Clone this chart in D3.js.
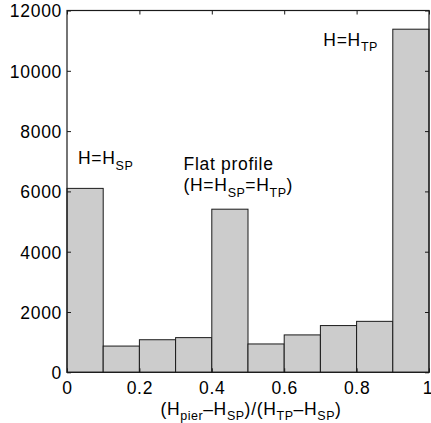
<!DOCTYPE html>
<html><head><meta charset="utf-8">
<script src="https://cdn.jsdelivr.net/npm/d3@7"></script>
<style>
html,body{margin:0;padding:0;background:#fff;}
text{font-family:"Liberation Sans",Arial,Helvetica,sans-serif;fill:#000;}
</style></head>
<body><svg id="c" width="431" height="423"></svg>
<script>
const binStarts = [0,0.1,0.2,0.3,0.4,0.5,0.6,0.7,0.8,0.9];
const binWidth = 0.1;
const counts = [6100,870,1080,1150,5410,940,1240,1550,1690,11380];
const xTicks = [0,0.2,0.4,0.6,0.8,1];
const xTickLabels = ["0","0.2","0.4","0.6","0.8","1"];
const yTicks = [0,2000,4000,6000,8000,10000,12000];

const svg = d3.select("#c");
const L=67, R=429, T=10.5, B=372.3;
const x = d3.scaleLinear().domain([0,1]).range([L,R]);
const y = d3.scaleLinear().domain([0,12000]).range([B,T]);
const fs = 17.5, ls = 0.7, sfs = 12.5, sls = 0.5, sdy = 5.5;

// bars
svg.append("g").selectAll("rect").data(binStarts).join("rect")
  .attr("x",(d)=>x(d)).attr("width",(d)=>x(d+binWidth)-x(d))
  .attr("y",(d,i)=>y(counts[i])).attr("height",(d,i)=>B-y(counts[i]))
  .attr("fill","#cccccc").attr("stroke","#1a1a1a").attr("stroke-width",1);

// box
svg.append("rect").attr("x",L).attr("y",T).attr("width",R-L).attr("height",B-T)
  .attr("fill","none").attr("stroke","#1a1a1a").attr("stroke-width",1.2);

const tl = 4;
const xb = svg.append("g").attr("transform",`translate(0,${B})`)
  .call(d3.axisBottom(x).tickValues(xTicks).tickFormat((d,i)=>xTickLabels[i]).tickSizeInner(-tl).tickSizeOuter(0).tickPadding(9.5));
const xt = svg.append("g").attr("transform",`translate(0,${T})`)
  .call(d3.axisTop(x).tickValues(xTicks).tickFormat("").tickSizeInner(-tl).tickSizeOuter(0));
const yl = svg.append("g").attr("transform",`translate(${L},0)`)
  .call(d3.axisLeft(y).tickValues(yTicks).tickFormat(d3.format("d")).tickSizeInner(-tl).tickSizeOuter(0).tickPadding(5));
const yr = svg.append("g").attr("transform",`translate(${R},0)`)
  .call(d3.axisRight(y).tickValues(yTicks).tickFormat("").tickSizeInner(-tl).tickSizeOuter(0));
[xb,xt,yl,yr].forEach(g=>{
  g.select(".domain").remove();
  g.selectAll("line").attr("stroke","#1a1a1a");
  g.selectAll("text").attr("font-size",fs).attr("letter-spacing",ls)
    .attr("font-family","Liberation Sans, Arial, sans-serif").attr("fill","#000");
});
xb.selectAll("text").attr("dy","0.71em");
xb.selectAll(".tick").filter((d)=>d===1).select("text").attr("dx",-1.5);
yl.selectAll("text").attr("dy","0.36em");

function rich(parent, xPos, yPos, parts, anchor){
  const t = parent.append("text").attr("x",xPos).attr("y",yPos).attr("font-size",fs)
    .attr("letter-spacing",ls).attr("text-anchor",anchor||"start");
  let shift = 0;
  parts.forEach(p=>{
    const ts = t.append("tspan").text(p.t);
    const target = p.sub ? sdy : 0;
    if(target!==shift){ ts.attr("dy",target-shift); shift=target; }
    ts.attr("font-size", p.sub ? sfs : fs).attr("letter-spacing", p.sub ? sls : ls);
  });
  return t;
}
rich(svg, 251, 414.5, [{t:"(H"},{t:"pier",sub:1},{t:"\u2013H"},{t:"SP",sub:1},{t:")/(H"},{t:"TP",sub:1},{t:"\u2013H"},{t:"SP",sub:1},{t:")"}],"middle");
rich(svg, 78, 164, [{t:"H=H"},{t:"SP",sub:1}]);
svg.append("text").attr("x",183.5).attr("y",170).attr("font-size",fs).attr("letter-spacing",ls).text("Flat profile");
rich(svg, 183.5, 191, [{t:"(H=H"},{t:"SP",sub:1},{t:"=H"},{t:"TP",sub:1},{t:")"}]);
rich(svg, 323.3, 45.5, [{t:"H=H"},{t:"TP",sub:1}]);
</script></body></html>
